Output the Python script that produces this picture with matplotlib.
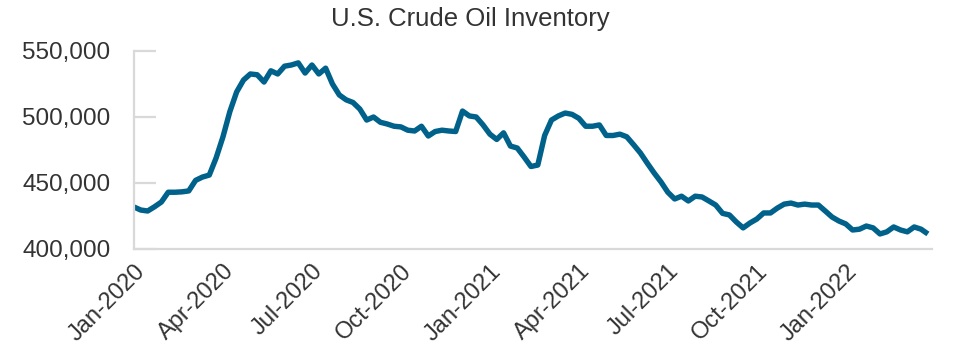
"""U.S. crude oil inventory, weekly, Jan 2020 - Mar 2022 (thousand barrels)."""

import matplotlib

matplotlib.use("Agg")
import matplotlib.pyplot as plt
from matplotlib.ticker import FuncFormatter

LINE_COLOR = "#00618a"
SPINE_COLOR = "#d9d9d9"
TEXT_COLOR = "#333333"

# weekly inventory readings, thousand barrels
inventory = [
    431.8, 429.5, 428.8, 432.0, 435.6, 443.0, 443.0, 443.3, 444.0, 452.0,
    454.5, 456.0, 469.0, 485.0, 504.0, 519.0, 528.0, 532.6, 532.0, 526.5,
    535.0, 532.6, 538.5, 539.4, 541.0, 533.3, 539.4, 532.6, 537.0, 525.0,
    516.7, 513.0, 511.0, 506.0, 497.7, 500.0, 496.0, 494.7, 493.0, 492.5,
    490.0, 489.4, 493.0, 485.6, 489.0, 490.0, 489.4, 489.0, 504.5, 500.8,
    500.0, 494.0, 487.0, 483.0, 488.0, 478.0, 476.5, 469.7, 462.5, 463.6,
    486.0, 497.7, 500.8, 503.0, 502.0, 499.0, 493.0, 493.0, 494.0, 486.0,
    486.0, 487.0, 485.0, 479.0, 472.7, 465.0, 457.6, 450.8, 443.0, 437.9,
    440.0, 436.4, 440.0, 439.4, 436.4, 433.3, 427.0, 425.8, 420.5, 416.0,
    419.7, 422.7, 427.3, 427.3, 431.0, 434.0, 434.8, 433.3, 434.0, 433.3,
    433.3, 428.8, 424.2, 421.2, 419.0, 414.4, 415.0, 417.4, 416.0, 411.4,
    413.0, 416.7, 414.4, 413.0, 416.7, 415.0, 411.4,
]
tick_labels = [
    "Jan-2020", "Apr-2020", "Jul-2020", "Oct-2020", "Jan-2021",
    "Apr-2021", "Jul-2021", "Oct-2021", "Jan-2022",
]
weeks_per_label = 13
y_ticks = [400000, 450000, 500000, 550000]

plt.rcParams["font.family"] = ["Liberation Sans", "DejaVu Sans"]

fig = plt.figure(figsize=(9.6, 3.63), dpi=100)
ax = fig.add_axes([134 / 960, 1 - 249 / 363, (932 - 134) / 960, (249 - 51) / 363])

weeks = list(range(len(inventory)))
ax.plot(weeks, [v * 1000 for v in inventory], color=LINE_COLOR, lw=3.9,
        solid_joinstyle="round", solid_capstyle="butt")

ax.set_xlim(0, len(inventory) - 0.4)
ax.set_ylim(y_ticks[0], y_ticks[-1])
ax.set_yticks(y_ticks)
ax.yaxis.set_major_formatter(FuncFormatter(lambda v, _: f"{int(v):,}"))
ax.set_xticks(list(range(0, weeks_per_label * len(tick_labels), weeks_per_label)))
ax.set_xticklabels(tick_labels, rotation=45, ha="right", rotation_mode="anchor")

for side in ("top", "right"):
    ax.spines[side].set_visible(False)
for side in ("left", "bottom"):
    ax.spines[side].set_color(SPINE_COLOR)
    ax.spines[side].set_linewidth(1.6)

ax.tick_params(axis="y", direction="in", length=16, width=1.6, color=SPINE_COLOR,
               pad=17, labelsize=17.5, labelcolor=TEXT_COLOR)
ax.tick_params(axis="x", length=0, pad=8, labelsize=17, labelcolor=TEXT_COLOR)

fig.text(470 / 960, 1 - 19 / 363, "U.S. Crude Oil Inventory", ha="center",
         va="center", fontsize=18.5, color=TEXT_COLOR)

fig.savefig("out.png", dpi=100)
